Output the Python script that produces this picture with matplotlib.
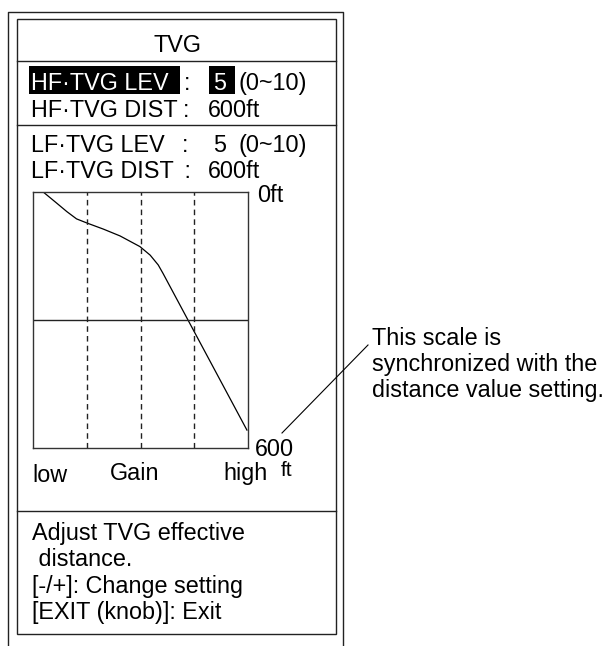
import matplotlib
matplotlib.use("Agg")
import matplotlib.pyplot as plt
from matplotlib.patches import Rectangle

plt.rcParams['font.family'] = ['Liberation Sans', 'DejaVu Sans']

# TVG curve (gain vs distance in ft)
gain = [0.19, 0.44, 0.63, 0.81, 1.01, 1.31, 1.62, 1.99, 2.18, 2.33, 2.42, 3.98]
depth = [0, 26, 46, 63, 73, 87, 103, 128, 148, 171, 191, 558]
gain_grid = [1, 2, 3]
dist_max = 600

menu_rows = [
    ("HF·TVG LEV", ":", "5", "(0~10)"),
    ("HF·TVG DIST", ":", "600ft", ""),
    ("LF·TVG LEV", ":", "5", "(0~10)"),
    ("LF·TVG DIST", " :", "600ft", ""),
]
help_lines = ["Adjust TVG effective", " distance.", "[-/+]: Change setting", "[EXIT (knob)]: Exit"]
note_lines = ["This scale is", "synchronized with the", "distance value setting."]

W, H = 605, 646
fig = plt.figure(figsize=(W / 100, H / 100), dpi=100)
bg = fig.add_axes([0, 0, 1, 1])
bg.set_xlim(0, W)
bg.set_ylim(H, 0)
bg.axis('off')

lc = '#222222'
fs = 16.8

# outer frame (open at the bottom)
bg.plot([8, 8, 343, 343], [H, 12, 12, H], color=lc, lw=1.0)
# inner frame
bg.add_patch(Rectangle((17, 19), 319, 615, fill=False, ec=lc, lw=1.0))
for y in [61, 125, 511]:
    bg.plot([17, 336], [y, y], color=lc, lw=1.0)

bg.text(177, 52, "TVG", fontsize=fs, ha='center', va='baseline')

# highlighted boxes on first row
bg.add_patch(Rectangle((29, 66), 151, 28, color='black', lw=0))
bg.add_patch(Rectangle((209, 66), 26, 28, color='black', lw=0))

baselines = [90, 117, 152, 178]
colon_x = [184, 183, 182, 178]
for i, (lab, col, val, rng) in enumerate(menu_rows):
    y = baselines[i]
    c = 'white' if i == 0 else 'black'
    bg.text(31, y, lab, fontsize=fs, ha='left', va='baseline', color=c)
    bg.text(colon_x[i], y, col, fontsize=fs, ha='left', va='baseline')
    vx = 213 if val == "5" else 208
    bg.text(vx, y, val, fontsize=fs, ha='left', va='baseline', color=c)
    if rng:
        bg.text(239, y, rng, fontsize=fs, ha='left', va='baseline')

# graph
ax = fig.add_axes([33 / W, 1 - 448 / H, 215 / W, 256 / H])
ax.plot(gain, depth, color='black', lw=0.9)
for g in gain_grid:
    ax.axvline(g, color=lc, lw=1.0, ls=(0, (4, 3)))
ax.axhline(dist_max / 2, color=lc, lw=1.0)
ax.set_xlim(0, 4)
ax.set_ylim(dist_max, 0)
ax.set_xticks([])
ax.set_yticks([])
for s in ax.spines.values():
    s.set_linewidth(1.0)
    s.set_color('#333333')

bg.text(257, 202, "0ft", fontsize=fs, ha='left', va='baseline')
bg.text(255, 456, "600", fontsize=fs, ha='left', va='baseline')
bg.text(287, 476, "ft", fontsize=15, ha='center', va='baseline')
bg.text(32, 482, "low", fontsize=fs, ha='left', va='baseline')
bg.text(135, 480, "Gain", fontsize=fs, ha='center', va='baseline')
bg.text(223, 480, "high", fontsize=fs, ha='left', va='baseline')

for i, t in enumerate(help_lines):
    bg.text(32, [540, 566, 593, 619][i], t, fontsize=fs, ha='left', va='baseline')

# callout
bg.plot([282, 368], [433, 345], color='black', lw=0.8)
for i, t in enumerate(note_lines):
    bg.text(372, [345, 371, 397][i], t, fontsize=fs, ha='left', va='baseline')

fig.savefig("out.png", dpi=100)
